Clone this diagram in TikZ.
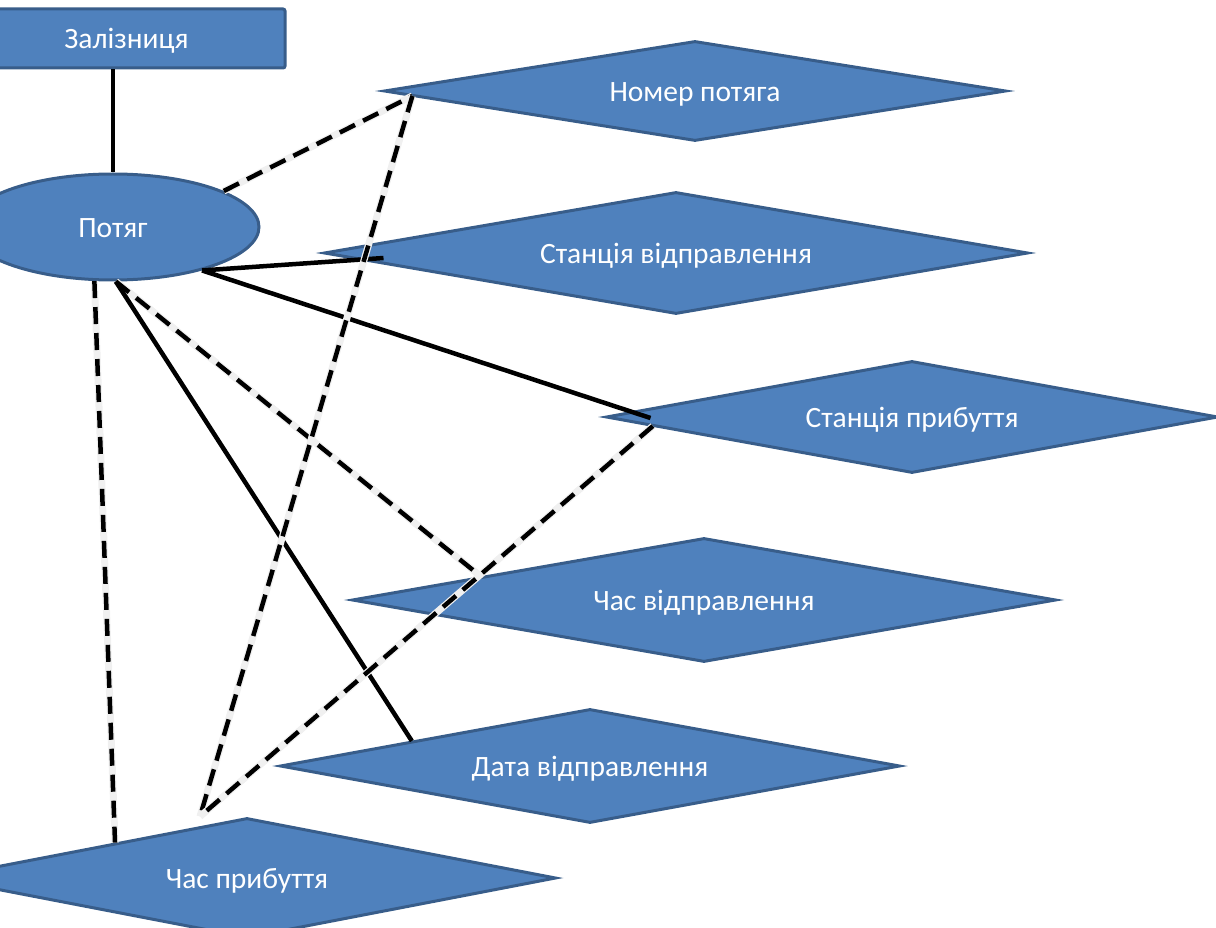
\documentclass[tikz,border=0pt]{standalone}
\usepackage{fontspec}
\setmainfont{Carlito}
\usepackage{tikz}
\usetikzlibrary{shapes.geometric,calc}
\definecolor{boxfill}{HTML}{4F81BD}
\definecolor{boxline}{HTML}{385D8A}
\tikzset{%
  blue shape/.style={
    fill=boxfill,
    draw=boxline,
    line width=3pt,
    text=white,
    inner sep=0pt,
    text height=21pt,
    text depth=0pt,
    font=\fontsize{29.5}{35}\selectfont
  },
  rail box/.style={
    blue shape,
    rectangle,
    rounded corners=2pt,
    minimum width=317pt,
    minimum height=59pt
  },
  train oval/.style={
    blue shape,
    ellipse,
    minimum width=292pt,
    minimum height=106pt
  },
  field diamond/.style 2 args={
    blue shape,
    diamond,
    aspect=5.5,
    minimum width=#1,
    minimum height=#2
  },
  solid link/.style={line width=4.5pt},
  dashed link/.style={
    line width=4.5pt,
    dash pattern=on 17pt off 9pt,
    preaction={draw=black!6, solid, line width=7pt}
  },
}

\begin{document}
\begin{tikzpicture}[x=1pt, y=-1pt]
\useasboundingbox (0,0) rectangle (1216,928);
    \node[rail box] (rail) at (126.5,38.5) {Залізниця};
    \node[train oval] (train) at (113,227) {Потяг};
    \node[field diamond={622pt}{100pt}] (number) at (695,91) {Номер потяга};
    \node[field diamond={704pt}{122pt}] (depst) at (676,253) {Станція відправлення};
    \node[field diamond={612pt}{112pt}] (arrst) at (912,417) {Станція прибуття};
    \node[field diamond={704pt}{124pt}] (deptime) at (704,600) {Час відправлення};
    \node[field diamond={620pt}{114pt}] (depdate) at (590,766) {Дата відправлення};
    \node[field diamond={618pt}{120pt}] (arrtime) at (247,878) {Час прибуття};
    \coordinate (arrtime top) at ($(arrtime.north)+(-47,0)$);
    \draw[solid link] (train.north |- rail.south) -- (train.north);
    \draw[dashed link] (train.18) -- (number.181);
    \draw[solid link] (train.-26) -- ($(depst.west)+(61,5)$);
    \draw[solid link] (train.-26) -- ($(arrst.west)+(46,1)$);
    \draw[dashed link] (train.-87) -- (deptime.174);
    \draw[solid link] (train.-87) -- (depdate.172.5);
    \draw[dashed link] (train.-109) -- (arrtime.165.5);
    \draw[dashed link] (number.181) -- (arrtime top);
    \draw[dashed link] (arrst.182.5) -- (arrtime top);
\end{tikzpicture}
\end{document}
